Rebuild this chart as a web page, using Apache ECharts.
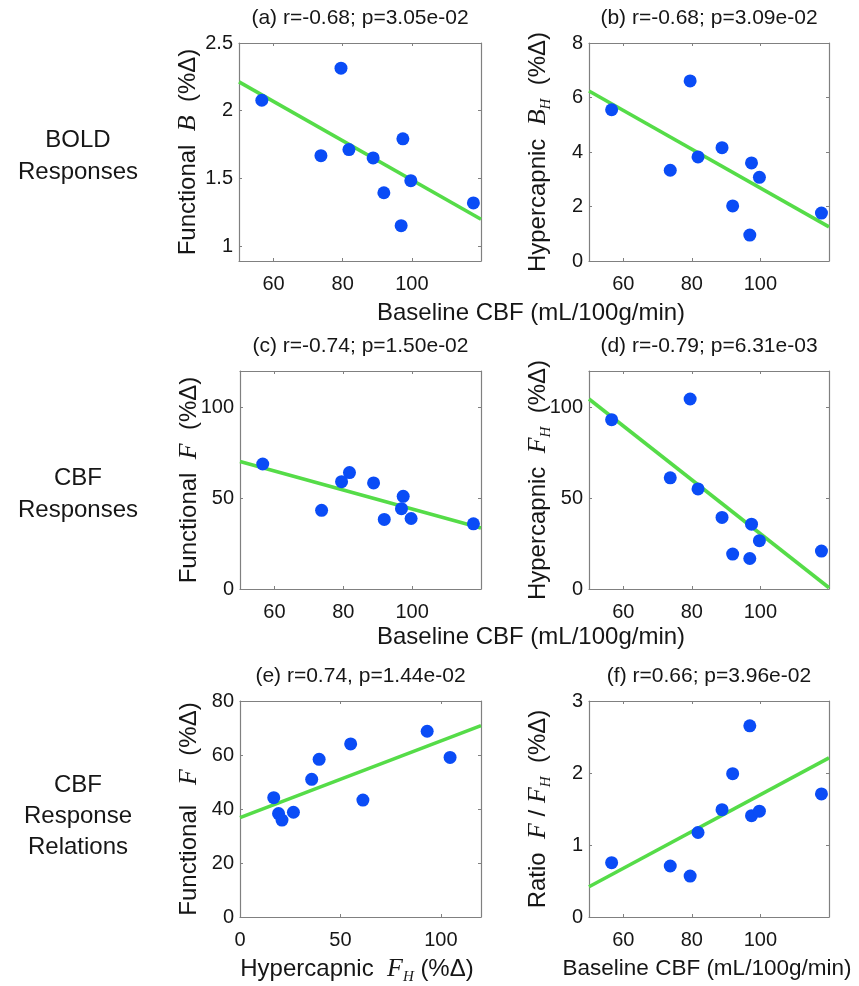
<!DOCTYPE html>
<html><head><meta charset="utf-8">
<script src="https://cdn.jsdelivr.net/npm/echarts@6/dist/echarts.min.js"></script>
<style>html,body{margin:0;padding:0;background:#fff}#c{width:859px;height:986px}</style>
</head><body><div id="c"></div>
<script>
// ---- data ----
const cbf    = [56.6, 73.7, 79.5, 81.8, 88.8, 91.9, 96.9, 97.4, 99.7, 117.8];
const boldF  = [2.077, 1.668, 2.314, 1.713, 1.651, 1.394, 1.151, 1.792, 1.483, 1.319];
const boldH  = [5.55, 3.33, 6.61, 3.82, 4.16, 2.02, 0.95, 3.60, 3.07, 1.76];
const cbfF   = [68.8, 43.3, 59.1, 64.1, 58.4, 38.3, 44.2, 51.0, 38.8, 35.9];
const cbfH   = [93.2, 61.2, 104.6, 55.1, 39.4, 19.2, 16.8, 35.7, 26.6, 20.9];
const ratio  = [0.755, 0.708, 0.568, 1.174, 1.49, 1.99, 2.655, 1.407, 1.47, 1.71];
// fit line end points
const fitXcbf = [50, 120];
const fitXfh  = [0, 120];
const fitA = [2.213, 1.198];
const fitB = [6.24, 1.25];
const fitC = [70.2, 33.6];
const fitD = [104.6, 0.7];
const fitE = [36.8, 70.9];
const fitF = [0.42, 2.21];
// tick labels
const ticksCBF = [60, 80, 100];
const ticksFH  = [0, 50, 100];
const ticksA = [1, 1.5, 2, 2.5];
const ticksB = [0, 2, 4, 6, 8];
const ticksCD = [0, 50, 100];
const ticksE = [0, 20, 40, 60, 80];
const ticksF = [0, 1, 2, 3];
const titles = ['(a) r=-0.68; p=3.05e-02', '(b) r=-0.68; p=3.09e-02', '(c) r=-0.74; p=1.50e-02',
                '(d) r=-0.79; p=6.31e-03', '(e) r=0.74, p=1.44e-02', '(f) r=0.66; p=3.96e-02'];
const yNames = ['Functional  {m|B}  (%Δ)', 'Hypercapnic  {m|B}{s|H}  (%Δ)', 'Functional  {m|F}  (%Δ)',
                'Hypercapnic  {m|F}{s|H}  (%Δ)', 'Functional   {m|F}  (%Δ)', 'Ratio  {m|F} / {m|F}{s|H}  (%Δ)'];
const xNameCBF = 'Baseline CBF (mL/100g/min)';
const xNameFH = 'Hypercapnic  {m|F}{s|H} (%Δ)';
const rowLabels = [['BOLD', 'Responses'], ['CBF', 'Responses'], ['CBF', 'Response', 'Relations']];

// ---- layout ----
const panels = [
  {g:[239, 43, 242, 218], x:cbf,  y:boldF, fx:fitXcbf, fy:fitA, xr:[50,120], yr:[0.89,2.5], xt:ticksCBF, yt:ticksA},
  {g:[589, 43, 240, 218], x:cbf,  y:boldH, fx:fitXcbf, fy:fitB, xr:[50,120], yr:[0,8],      xt:ticksCBF, yt:ticksB},
  {g:[240, 371, 241, 218], x:cbf, y:cbfF,  fx:fitXcbf, fy:fitC, xr:[50,120], yr:[0,120],    xt:ticksCBF, yt:ticksCD},
  {g:[589, 371, 240, 218], x:cbf, y:cbfH,  fx:fitXcbf, fy:fitD, xr:[50,120], yr:[0,120],    xt:ticksCBF, yt:ticksCD},
  {g:[240, 701, 241, 216], x:cbfH, y:cbfF, fx:fitXfh,  fy:fitE, xr:[0,120],  yr:[0,80],     xt:ticksFH,  yt:ticksE},
  {g:[589, 701, 240, 216], x:cbf, y:ratio, fx:fitXcbf, fy:fitF, xr:[50,120], yr:[0,3],      xt:ticksCBF, yt:ticksF}
];
const TXT = '#161616', AX = '#808080';
const SANS = 'Liberation Sans, Arial, Helvetica, sans-serif';
const rich = {
  m: {fontFamily:'Liberation Serif, DejaVu Serif, serif', fontStyle:'italic', fontSize:26, lineHeight:26, fill:TXT, color:TXT},
  s: {fontFamily:'Liberation Serif, DejaVu Serif, serif', fontStyle:'italic', fontSize:15, lineHeight:15, padding:[16,0,0,0], fill:TXT, color:TXT}
};

const grid = [], xAxis = [], yAxis = [], series = [], graphic = [];
panels.forEach((p, i) => {
  grid.push({left:p.g[0], top:p.g[1], width:p.g[2], height:p.g[3], containLabel:false});
  const tickStyle = {show:true, inside:true, length:3, lineStyle:{color:AX, width:1}};
  const lineStyle = {show:true, onZero:false, lineStyle:{color:AX, width:1.2}};
  xAxis.push({type:'value', gridIndex:i, position:'bottom', min:p.xr[0], max:p.xr[1],
    axisLine:lineStyle, axisTick:Object.assign({customValues:p.xt}, tickStyle),
    axisLabel:{customValues:p.xt, margin:13, fontSize:20, color:TXT, fontFamily:SANS}, splitLine:{show:false}});
  xAxis.push({type:'value', gridIndex:i, position:'top', min:p.xr[0], max:p.xr[1],
    axisLine:lineStyle, axisTick:Object.assign({customValues:p.xt}, tickStyle),
    axisLabel:{show:false}, splitLine:{show:false}});
  yAxis.push({type:'value', gridIndex:i, position:'left', min:p.yr[0], max:p.yr[1],
    axisLine:lineStyle, axisTick:Object.assign({customValues:p.yt}, tickStyle),
    axisLabel:{customValues:p.yt, margin:6, fontSize:20, color:TXT, fontFamily:SANS}, splitLine:{show:false}});
  yAxis.push({type:'value', gridIndex:i, position:'right', min:p.yr[0], max:p.yr[1],
    axisLine:lineStyle, axisTick:Object.assign({customValues:p.yt}, tickStyle),
    axisLabel:{show:false}, splitLine:{show:false}});
  series.push({type:'line', xAxisIndex:2*i, yAxisIndex:2*i, data:p.fx.map((v, k) => [v, p.fy[k]]),
    symbol:'none', lineStyle:{color:'#55dc48', width:3.6}, silent:true, animation:false, z:2});
  series.push({type:'scatter', xAxisIndex:2*i, yAxisIndex:2*i, data:p.x.map((v, k) => [v, p.y[k]]),
    symbol:'circle', symbolSize:13, itemStyle:{color:'#0a4cf6', opacity:1}, animation:false, z:3});
  // title
  graphic.push({type:'text', x:p.g[0] + p.g[2] / 2, y:p.g[1] - 25,
    style:{text:titles[i], fontSize:21, fontFamily:SANS, fill:TXT, align:'center', verticalAlign:'middle', textAlign:'center', textVerticalAlign:'middle'}});
  // y-axis name
  graphic.push({type:'text', x:p.g[0] - 51, y:p.g[1] + p.g[3] / 2, rotation:Math.PI / 2,
    style:{text:yNames[i], rich:rich, fontSize:24, fontFamily:SANS, fill:TXT, align:'center', verticalAlign:'middle', textAlign:'center', textVerticalAlign:'middle'}});
});

// x-axis names
const xNames = [
  {t:xNameCBF, x:531, y:313, fs:24}, {t:xNameCBF, x:531, y:637, fs:24},
  {t:xNameFH, x:357, y:969, fs:24}, {t:xNameCBF, x:707, y:969, fs:22.5}
];
xNames.forEach(n => graphic.push({type:'text', x:n.x, y:n.y,
  style:{text:n.t, rich:rich, fontSize:n.fs, fontFamily:SANS, fill:TXT, align:'center', verticalAlign:'middle', textAlign:'center', textVerticalAlign:'middle'}}));

// row labels
const rowY = [[140, 172], [478, 510], [785, 816, 847]];
rowLabels.forEach((lines, r) => lines.forEach((t, k) => graphic.push({type:'text', x:78, y:rowY[r][k],
  style:{text:t, fontSize:24, fontFamily:SANS, fill:TXT, align:'center', verticalAlign:'middle', textAlign:'center', textVerticalAlign:'middle'}})));

const chart = echarts.init(document.getElementById('c'), null, {renderer:'canvas'});
chart.setOption({backgroundColor:'#ffffff', animation:false, grid, xAxis, yAxis, series, graphic});
</script></body></html>
